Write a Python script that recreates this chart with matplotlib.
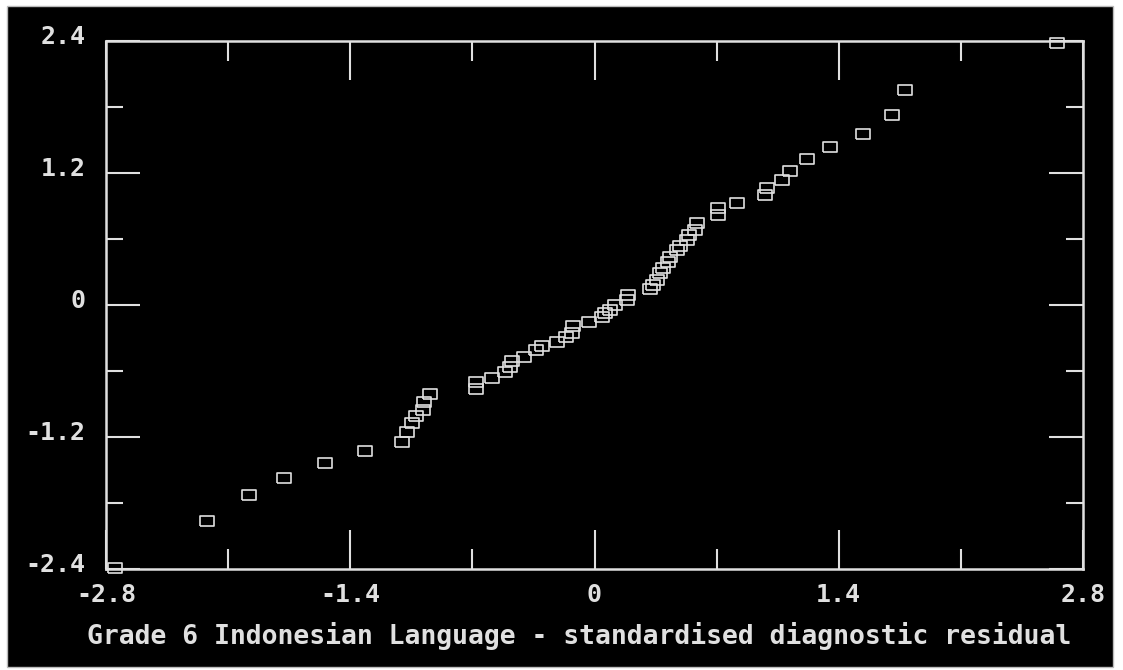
import numpy as np
import matplotlib
matplotlib.use("Agg")
import matplotlib.pyplot as plt
from matplotlib.patches import Rectangle
from matplotlib.transforms import ScaledTranslation

# expected normal score vs standardised diagnostic residual
resid_x = [-2.748, -2.221, -1.981, -1.780, -1.545, -1.316, -1.104, -1.075, -1.046, -1.023,
           -0.983, -0.978, -0.943, -0.680, -0.680, -0.588, -0.513, -0.485, -0.473, -0.405,
           -0.336, -0.301, -0.215, -0.164, -0.130, -0.124, -0.032, 0.042, 0.060, 0.088,
           0.117, 0.186, 0.191, 0.317, 0.335, 0.358, 0.375, 0.392, 0.421, 0.432,
           0.472, 0.489, 0.530, 0.541, 0.575, 0.587, 0.707, 0.707, 0.816, 0.977,
           0.988, 1.074, 1.120, 1.217, 1.349, 1.538, 1.704, 1.779, 2.650]
resid_y = [-2.391, -1.964, -1.727, -1.573, -1.436, -1.327, -1.245, -1.155, -1.073, -1.009,
           -0.955, -0.882, -0.809, -0.700, -0.764, -0.664, -0.609, -0.564, -0.509, -0.473,
           -0.409, -0.373, -0.336, -0.291, -0.255, -0.191, -0.155, -0.109, -0.073, -0.045,
           0.000, 0.045, 0.091, 0.145, 0.182, 0.227, 0.291, 0.336, 0.391, 0.436,
           0.500, 0.536, 0.591, 0.636, 0.682, 0.745, 0.818, 0.882, 0.927, 1.000,
           1.064, 1.136, 1.218, 1.327, 1.436, 1.555, 1.727, 1.955, 2.382]

x_major = [-2.8, -1.4, 0, 1.4, 2.8]
x_labels = ["-2.8", "-1.4", "0", "1.4", "2.8"]
x_minor = [-2.1, -0.7, 0.7, 2.1]
y_major = [-2.4, -1.2, 0, 1.2, 2.4]
y_labels = ["-2.4", "-1.2", "0", "1.2", "2.4"]
y_minor = [-1.8, -0.6, 0.6, 1.8]

title = "Grade 6 Indonesian Language - standardised diagnostic residual"

fg = "#e0e0e0"
font = "DejaVu Sans Mono"

fig = plt.figure(figsize=(11.23, 6.70), dpi=100)
fig.patch.set_facecolor("white")
fig.add_artist(Rectangle((7 / 1123, 3 / 670), 1106 / 1123, 661 / 670,
                         transform=fig.transFigure, facecolor="black",
                         edgecolor="#bbbbbb", lw=1, zorder=-10))

ax = fig.add_axes([106 / 1123, 1 - 569 / 670, 977 / 1123, 528 / 670])
ax.set_facecolor("black")
ax.set_xlim(-2.8, 2.8)
ax.set_ylim(-2.4, 2.4)

box = [(-1.3, -1), (1.3, -1), (1.3, 1), (-1.3, 1), (-1.3, -1)]
ax.plot(resid_x, resid_y, linestyle="none", marker=box, markersize=9.8,
        markerfacecolor="none", markeredgecolor=fg, markeredgewidth=1.2,
        clip_on=False, zorder=3)

for s in ax.spines.values():
    s.set_color(fg)
    s.set_linewidth(1.8)

ax.set_xticks(x_major)
ax.set_xticklabels(x_labels)
ax.set_xticks(x_minor, minor=True)
ax.set_yticks(y_major)
ax.set_yticklabels(y_labels)
ax.set_yticks(y_minor, minor=True)

ax.tick_params(axis="x", which="major", direction="in", length=28, width=1.5,
               top=True, bottom=True, color=fg, pad=10)
ax.tick_params(axis="x", which="minor", direction="in", length=14.5, width=1.5,
               top=True, bottom=True, color=fg)
ax.tick_params(axis="y", which="major", direction="in", length=24.5, width=1.5,
               left=True, right=True, color=fg, pad=14.5)
ax.tick_params(axis="y", which="minor", direction="in", length=12.2, width=1.5,
               left=True, right=True, color=fg)

for lab in ax.get_xticklabels() + ax.get_yticklabels():
    lab.set_fontfamily(font)
    lab.set_fontweight("bold")
    lab.set_fontsize(18)
    lab.set_color(fg)

up = ScaledTranslation(0, 7 / 100, fig.dpi_scale_trans)
for lab in ax.get_yticklabels():
    lab.set_transform(lab.get_transform() + up)

fig.text(579 / 1123, 1 - 636 / 670, title, ha="center", va="center",
         fontfamily=font, fontweight="bold", fontsize=19, color=fg)

fig.savefig("out.png", dpi=100, facecolor=fig.get_facecolor())
